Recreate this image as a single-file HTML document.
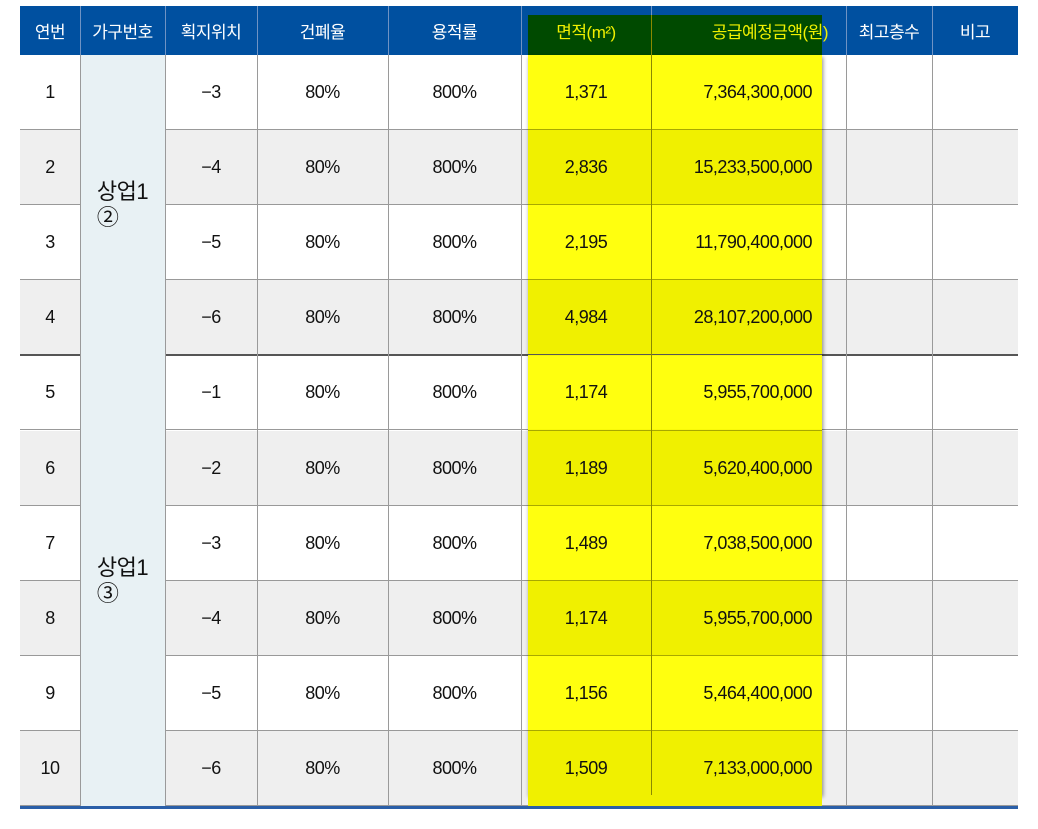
<!DOCTYPE html>
<html><head><meta charset="utf-8"><style>
body{margin:0;width:1038px;height:829px;background:#fff;font-family:"Liberation Sans","Noto Sans CJK KR",sans-serif;position:relative;overflow:hidden}
.a{position:absolute;box-sizing:border-box}
.t{position:absolute;display:flex;align-items:center;justify-content:center;font-size:18px;color:#111;letter-spacing:-0.5px}
.h{color:#fff;font-size:17px}
</style></head><body>
<div id="root"></div>
<script>
const colX=[20,80,165,257,388,521,651,846,932,1018];
const headers=['연번','가구번호','획지위치','건폐율','용적률','면적(m²)','공급예정금액(원)','최고층수','비고'];
const pos=['-3','-4','-5','-6','-1','-2','-3','-4','-5','-6'];
const area=['1,371','2,836','2,195','4,984','1,174','1,189','1,489','1,174','1,156','1,509'];
const price=['7,364,300,000','15,233,500,000','11,790,400,000','28,107,200,000','5,955,700,000','5,620,400,000','7,038,500,000','5,955,700,000','5,464,400,000','7,133,000,000'];
const groups=[['상업1','②',0,4],['상업1','③',4,10]];
const top0=55,rh=75.1;
const R=document.body;
function box(name,x,y,w,h,css,txt,cls){const d=document.createElement('div');d.className=cls||'a';


d.style.cssText=`left:${x}px;top:${y}px;width:${w}px;height:${h}px;`+(css||'');if(txt!==undefined)d.innerHTML=txt;R.appendChild(d);return d;}
// header
box('header-row',20,6,998,49,'background:#0050a0');
// rows backgrounds
for(let i=0;i<10;i++){box('row-'+(i+1)+'-bg',20,top0+i*rh,998,rh,'background:'+(i%2?'#efefef':'#fff')+';border-bottom:1px solid #999');}
box('group-divider',20,top0+4*rh-1,998,2,'background:#555');
// groups
groups.forEach((g,k)=>{box('group-cell-'+(k+1),80,top0+g[2]*rh,85,(g[3]-g[2])*rh,'background:#e8f1f4');});
// vertical lines
colX.slice(1,-1).forEach((x,k)=>{box('col-line-'+k,x,6,1,800,'background:#9a9a9a');});
colX.slice(1,-1).forEach((x,k)=>{box('col-line-h-'+k,x,6,1,49,'background:#6f93c4');});
// yellow highlight
box('highlight-header',528,15,294,40,'background:#004a00');
box('highlight-body',528,55,294,740,'background:rgba(255,255,0,0.94);box-shadow:1px 2px 4px rgba(0,0,0,0.45)');
for(let i=0;i<10;i++){if(i%2)box('highlight-row-'+(i+1),528,top0+i*rh,294,rh,'background:#f0f000');if(i)box('highlight-line-'+i,528,top0+i*rh-1,294,1,'background:'+(i==4?'#555':'#a8a800'));}
box('highlight-col-line',651,15,1,780,'background:#8a8a00');
box('bottom-line',20,806,998,3,'background:#2a5fa8');
// header text
headers.forEach((h,c)=>{const d=box('header-'+(c+1),colX[c],6,colX[c+1]-colX[c],49,c==5||c==6?'color:#f0f000':'',h,'t h');
if(c==6){d.style.justifyContent='flex-end';d.style.paddingRight='18px';d.style.boxSizing='border-box';}});
// body text
for(let i=0;i<10;i++){const y=top0+i*rh;
box('row-number-'+(i+1),20,y,60,rh,'',String(i+1),'t');
box('lot-position-'+(i+1),165,y,92,rh,'',pos[i].replace('-','−'),'t');
box('coverage-'+(i+1),257,y,131,rh,'','80%','t');
box('floor-ratio-'+(i+1),388,y,133,rh,'','800%','t');
box('area-'+(i+1),521,y,130,rh,'',area[i],'t');
const p=box('price-'+(i+1),651,y,161,rh,'justify-content:flex-end',price[i],'t');
}
groups.forEach((g,k)=>{box('group-label-'+(k+1),80,top0+g[2]*rh,85,(g[3]-g[2])*rh,'flex-direction:column;font-size:22px;line-height:26px',g[0]+'<br>'+g[1],'t');});
</script>
</body></html>
